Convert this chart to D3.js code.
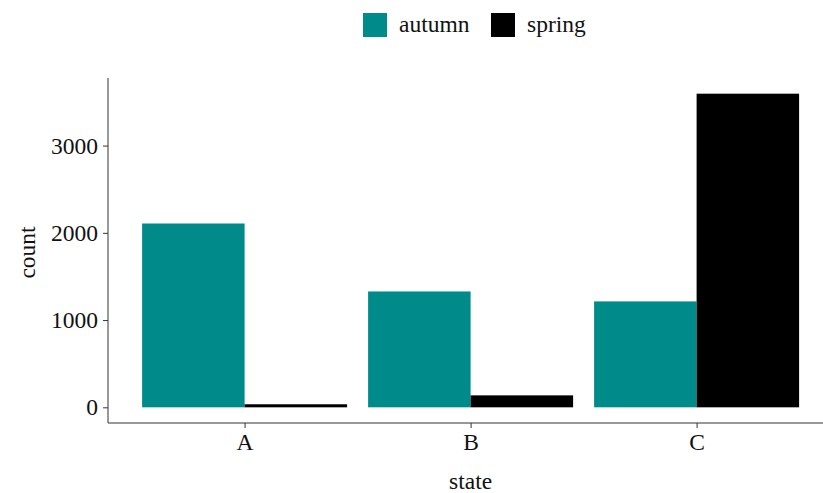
<!DOCTYPE html>
<html>
<head>
<meta charset="utf-8">
<script src="https://cdn.jsdelivr.net/npm/d3@7"></script>
<style>
  body { margin: 0; background: #fff; }
  svg { display: block; }
</style>
</head>
<body>
<div id="chart"></div>
<script>
const states = ["A", "B", "C"];
const seasons = ["autumn", "spring"];
const autumn = [2107, 1328, 1214];
const spring = [35, 137, 3595];
const yTicks = [0, 1000, 2000, 3000];
const colors = ["#008B8B", "#000000"];

const FONT = "'Liberation Serif', 'Times New Roman', Times, serif";
const FS = 23.5;
const width = 823, height = 493;
const svg = d3.select("#chart").append("svg")
  .attr("width", width)
  .attr("height", height);

const plotLeft = 108, plotTop = 78, plotBottom = 423;

// ggplot-like discrete range: 0.6 units padding at each side
const unit = 226;
const x = d3.scalePoint().domain(states)
  .range([plotLeft + 0.6 * unit + 1, plotLeft + 2.6 * unit + 1]);
const xRight = plotLeft + 3.2 * unit;

const yMax = d3.max(spring.concat(autumn));
const y = d3.scaleLinear()
  .domain([-0.05 * yMax, yMax * 1.05])
  .range([plotBottom, plotTop]);

const barW = 102.5;
const series = [autumn, spring];

series.forEach((vals, si) => {
  svg.append("g").selectAll("rect")
    .data(vals)
    .enter()
    .append("rect")
    .attr("x", (d, i) => x(states[i]) - barW + si * barW)
    .attr("y", d => y(d))
    .attr("width", barW)
    .attr("height", d => y(0) - y(d))
    .attr("fill", colors[si]);
});

// axes
const yAxis = svg.append("g")
  .attr("transform", `translate(${plotLeft},0)`)
  .call(d3.axisLeft(y).tickValues(yTicks).tickSize(5).tickPadding(5).tickFormat(d3.format("d")));
yAxis.select(".domain").attr("d", `M0,${plotTop}V${plotBottom}`).attr("stroke", "#333");

const xAxis = svg.append("g")
  .attr("transform", `translate(0,${plotBottom})`)
  .call(d3.axisBottom(x).tickSize(5).tickPadding(5));
xAxis.select(".domain").attr("d", `M${plotLeft},0H${xRight}`).attr("stroke", "#333");

svg.selectAll(".tick line").attr("stroke", "#333");
[xAxis, yAxis].forEach(a => a.attr("font-family", FONT).attr("font-size", FS));
svg.selectAll(".tick text").attr("fill", "#111");

// axis titles
svg.append("text")
  .attr("x", x("B"))
  .attr("y", 489)
  .attr("text-anchor", "middle")
  .attr("font-family", FONT)
  .attr("font-size", FS)
  .attr("fill", "#111")
  .text("state");

svg.append("text")
  .attr("transform", `translate(35,${(plotTop + plotBottom) / 2 + 2}) rotate(-90)`)
  .attr("text-anchor", "middle")
  .attr("font-family", FONT)
  .attr("font-size", FS)
  .attr("fill", "#111")
  .text("count");

// legend
const legendX = [363, 491];
const legend = svg.append("g");
seasons.forEach((s, i) => {
  legend.append("rect")
    .attr("x", legendX[i])
    .attr("y", 13)
    .attr("width", 24)
    .attr("height", 24)
    .attr("fill", colors[i]);
  legend.append("text")
    .attr("x", legendX[i] + 36)
    .attr("y", 32)
    .attr("font-family", FONT)
    .attr("font-size", FS)
    .attr("fill", "#111")
    .text(s);
});
</script>
</body>
</html>
